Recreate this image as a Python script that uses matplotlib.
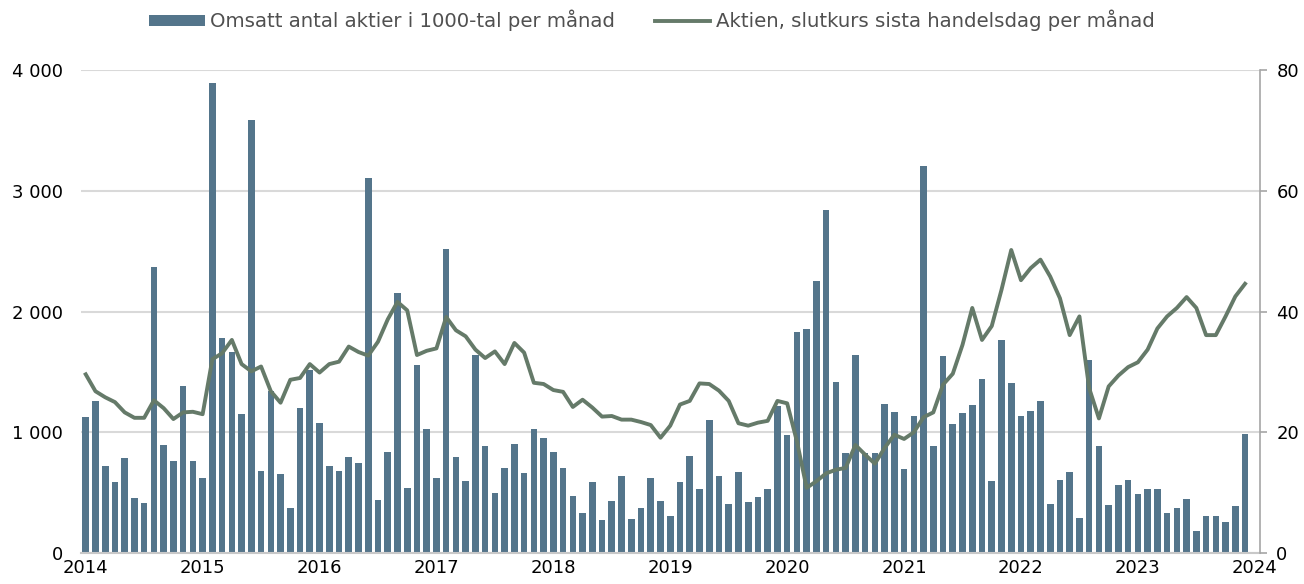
import matplotlib
matplotlib.use("Agg")
import matplotlib.pyplot as plt
from matplotlib.ticker import FuncFormatter, MultipleLocator
import numpy as np

plt.rcParams['font.family'] = ['DejaVu Sans']

# monthly data Jan 2014 - Dec 2023
volym = [1130, 1263, 723, 590, 789, 452, 414, 2372, 891, 764, 1385, 764,
         621, 3890, 1777, 1669, 1153, 3586, 676, 1338, 654, 372, 1200, 1517,
         1073, 723, 676, 794, 748, 3103, 439, 836, 2152, 541, 1559, 1026,
         621, 2519, 794, 596, 1644, 883, 494, 701, 905, 662, 1026, 954,
         836, 701, 472, 334, 590, 270, 430, 637, 281, 372, 623, 430,
         303, 590, 803, 532, 1103, 637, 408, 668, 422, 461, 532, 1214,
         979, 1834, 1854, 2254, 2839, 1415, 828, 1644, 828, 828, 1233, 1172,
         692, 1137, 3206, 883, 1633, 1068, 1156, 1225, 1440, 596, 1766, 1410,
         1131, 1178, 1258, 408, 604, 668, 287, 1600, 883, 400, 566, 604,
         486, 532, 532, 334, 372, 447, 185, 303, 303, 257, 392, 988]

kurs = [29.6, 26.8, 25.8, 25.0, 23.3, 22.4, 22.4, 25.3, 24.0, 22.2, 23.3, 23.4,
        23.0, 32.1, 33.1, 35.3, 31.3, 30.1, 30.9, 26.8, 24.9, 28.7, 29.0, 31.3,
        29.9, 31.3, 31.7, 34.2, 33.3, 32.7, 35.0, 38.7, 41.6, 40.2, 32.8, 33.5,
        33.9, 39.1, 36.9, 35.9, 33.7, 32.3, 33.4, 31.3, 34.8, 33.2, 28.2, 28.0,
        27.0, 26.7, 24.2, 25.4, 24.1, 22.6, 22.7, 22.1, 22.1, 21.7, 21.2, 19.1,
        21.1, 24.6, 25.2, 28.1, 28.0, 26.9, 25.2, 21.5, 21.1, 21.6, 21.9, 25.2,
        24.8, 18.5, 10.8, 11.9, 13.2, 13.8, 14.1, 17.9, 16.3, 14.8, 17.4, 19.6,
        18.9, 20.0, 22.5, 23.3, 27.9, 29.7, 34.5, 40.6, 35.3, 37.6, 43.6, 50.2,
        45.2, 47.2, 48.6, 45.8, 42.2, 36.1, 39.2, 27.3, 22.3, 27.6, 29.4, 30.8,
        31.6, 33.7, 37.2, 39.2, 40.6, 42.4, 40.6, 36.1, 36.1, 39.2, 42.5, 44.6]

years = [str(y) for y in range(2014, 2025)]

bar_color = '#54758b'
line_color = '#657a69'

fig = plt.figure(figsize=(13.04, 5.84), dpi=100)
ax = fig.add_axes([0.062, 0.053, 0.904, 0.827])
x = np.arange(len(volym))
bars = ax.bar(x, volym, width=0.68, color=bar_color, zorder=2,
              label='Omsatt antal aktier i 1000-tal per månad')

ax.set_xlim(-0.5, 120.5)
ax.set_ylim(0, 4000)
ax.yaxis.set_major_locator(MultipleLocator(1000))
ax.yaxis.set_major_formatter(FuncFormatter(lambda v, p: f'{int(v):,}'.replace(',', ' ')))
ax.grid(axis='y', color='#d9d9d9', linewidth=1.5, zorder=0)
ax.set_axisbelow(True)
ax.set_xticks(np.arange(0, 121, 12))
ax.set_xticklabels(years)
ax.tick_params(axis='both', length=0, labelsize=13, colors='black')
ax.tick_params(axis='y', pad=13)
ax.tick_params(axis='x', pad=4)
for s in ['left', 'top', 'right']:
    ax.spines[s].set_visible(False)
ax.spines['bottom'].set_color('#c8c8c8')
ax.spines['bottom'].set_linewidth(1.5)

ax2 = ax.twinx()
line, = ax2.plot(x, kurs, color=line_color, linewidth=2.8,
                 label='Aktien, slutkurs sista handelsdag per månad')
ax2.set_ylim(0, 80)
ax2.yaxis.set_major_locator(MultipleLocator(20))
for s in ['left', 'top', 'bottom']:
    ax2.spines[s].set_visible(False)
ax2.spines['right'].set_color('#a6a6a6')
ax2.spines['right'].set_linewidth(1.2)
ax2.tick_params(axis='y', length=5, width=1.2, color='#a6a6a6',
                labelsize=13, labelcolor='black', pad=7)

fig.legend(handles=[bars, line], loc='upper center', bbox_to_anchor=(0.5, 1.0),
           ncol=2, frameon=False, fontsize=14.2, labelcolor='#505050',
           handlelength=2.8, handletextpad=0.3, columnspacing=2.0,
           handleheight=0.45, borderaxespad=0.1)

fig.savefig('out.png', dpi=100)
